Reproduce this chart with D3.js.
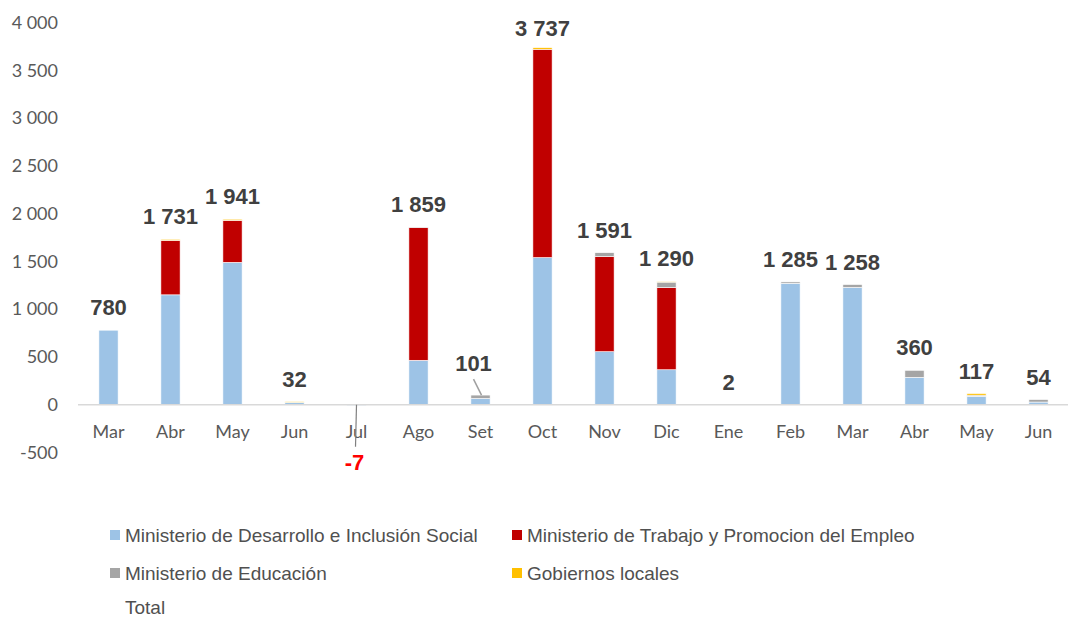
<!DOCTYPE html>
<meta charset="utf-8">
<script src="https://d3js.org/d3.v7.min.js"></script>
<style>
  body { margin: 0; background: #fff; }
  .tick text { font-family: Lato, "Open Sans", sans-serif; font-size: 18px; fill: #595959; }
  .total { font-family: "Liberation Sans Narrow", "Arial Narrow", "Liberation Sans", sans-serif; font-weight: bold; font-size: 22px; fill: #404040; }
  .legend text { font-family: "Liberation Sans Narrow", "Arial Narrow", "Liberation Sans", sans-serif; font-size: 19px; fill: #505050; }
</style>
<div id="chart"></div>
<script>
// months (Mar of one year to Jun of the next)
var months = ["Mar","Abr","May","Jun","Jul","Ago","Set","Oct","Nov","Dic","Ene","Feb","Mar","Abr","May","Jun"];

// series values
var desarrollo = [780, 1150, 1490, 25, -7, 465, 65, 1540, 555, 366, 2, 1270, 1227, 286, 88, 28];
var trabajo    = [0, 570, 440, 0, 0, 1390, 0, 2180, 996, 861, 0, 0, 0, 0, 0, 0];
var educacion  = [0, 0, 0, 0, 0, 4, 36, 0, 40, 56, 0, 15, 31, 74, 12, 26];
var gobiernos  = [0, 11, 11, 7, 0, 0, 0, 17, 0, 7, 0, 0, 0, 0, 17, 0];
var totals     = [780, 1731, 1941, 32, -7, 1859, 101, 3737, 1591, 1290, 2, 1285, 1258, 360, 117, 54];

var yTicks = [-500, 0, 500, 1000, 1500, 2000, 2500, 3000, 3500, 4000];

var seriesNames = ["Ministerio de Desarrollo e Inclusión Social", "Ministerio de Trabajo y Promocion del Empleo",
                   "Ministerio de Educación", "Gobiernos locales"];
var colors = ["#9DC3E6", "#C00000", "#A5A5A5", "#FFC000"];

var width = 1068, height = 619;

// number format with space as thousands separator and plain hyphen
function fmt(d) {
  return d3.format(",")(d).replace(/,/g, " ").replace("\u2212", "-");
}

var svg = d3.select("#chart").append("svg")
    .attr("width", width)
    .attr("height", height);

var x = d3.scaleBand()
    .domain(d3.range(months.length))
    .range([77.5, 1069.5])
    .paddingInner(0.69)
    .paddingOuter(0.345);

var y = d3.scaleLinear()
    .domain([-500, 4000])
    .range([452.5, 22.5]);

// y axis labels (no line)
var yAxis = svg.append("g")
    .attr("transform", "translate(58,0)")
    .call(d3.axisLeft(y).tickValues(yTicks).tickSize(0).tickPadding(0).tickFormat(fmt));
yAxis.select(".domain").remove();

// build stacked data
var rows = months.map(function(m, i) {
  return { i: i, k0: desarrollo[i], k1: trabajo[i], k2: educacion[i], k3: gobiernos[i] };
});
var stack = d3.stack().keys(["k0","k1","k2","k3"]).offset(d3.stackOffsetDiverging);
var layers = stack(rows);

svg.append("g").selectAll("g")
  .data(layers)
  .join("g")
    .attr("fill", function(d, i) { return colors[i]; })
  .selectAll("rect")
  .data(function(d) { return d; })
  .join("rect")
    .attr("x", function(d) { return x(d.data.i); })
    .attr("width", x.bandwidth())
    .attr("y", function(d) { return y(Math.max(d[0], d[1])); })
    .attr("height", function(d) { return Math.abs(y(d[0]) - y(d[1])); })
    .attr("stroke", "#fff")
    .attr("stroke-width", 0.6);

// zero line
svg.append("line")
    .attr("x1", 78).attr("x2", 1068)
    .attr("y1", y(0)).attr("y2", y(0))
    .attr("stroke", "#D9D9D9")
    .attr("stroke-width", 1.5);

// x axis labels
var xAxis = svg.append("g")
    .attr("transform", "translate(0," + (y(0) + 13) + ")")
    .call(d3.axisBottom(x).tickSize(0).tickPadding(8).tickFormat(function(i) { return months[i]; }));
xAxis.select(".domain").remove();

var cx = function(i) { return x(i) + x.bandwidth() / 2; };

// total labels
svg.append("g").selectAll("text")
  .data(totals)
  .join("text")
    .attr("class", "total")
    .attr("text-anchor", "middle")
    .attr("x", function(d, i) {
      if (i == 6) return cx(i) - 7;
      if (d < 0) return cx(i) - 2;
      return cx(i);
    })
    .attr("y", function(d, i) {
      if (d < 0) return y(0) + 65;
      if (i == 6) return y(d) - 24;
      if (i == 7) return y(d) - 12;
      return y(d) - 15;
    })
    .style("fill", function(d) { return d < 0 ? "#FF0000" : null; })
    .text(fmt);

// leader lines for moved labels
svg.append("line")
    .attr("x1", cx(4)).attr("x2", cx(4) - 1)
    .attr("y1", y(0)).attr("y2", y(0) + 42)
    .attr("stroke", "#808080").attr("stroke-width", 1.2);
svg.append("line")
    .attr("x1", cx(6) - 7).attr("x2", cx(6) + 1)
    .attr("y1", y(101) - 16).attr("y2", y(101))
    .attr("stroke", "#A0A0A0").attr("stroke-width", 1.5);

// legend
var legend = svg.append("g").attr("class", "legend");
var legPos = [[110, 535], [512, 535], [110, 573], [512, 573]];
seriesNames.forEach(function(name, i) {
  var g = legend.append("g").attr("transform", "translate(" + legPos[i][0] + "," + legPos[i][1] + ")");
  g.append("rect").attr("x", 0).attr("y", -5).attr("width", 10).attr("height", 10).attr("fill", colors[i]);
  g.append("text").attr("x", 15).attr("y", 7).text(name);
});
legend.append("text").attr("x", 125).attr("y", 614).text("Total");
</script>
